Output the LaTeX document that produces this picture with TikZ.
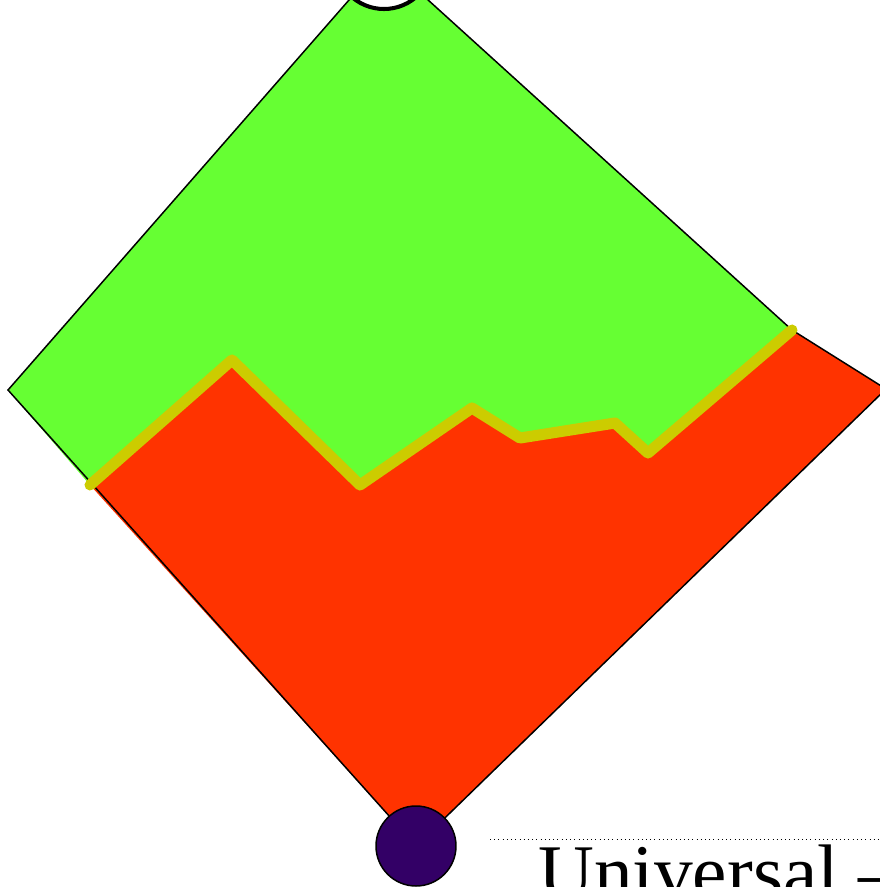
\documentclass[tikz,border=0pt]{standalone}
\usepackage{fontspec}
\setmainfont{Liberation Serif}
\usetikzlibrary{positioning}

\definecolor{pastgreen}{HTML}{66FF33}
\definecolor{futurered}{HTML}{FF3300}
\definecolor{horizon}{HTML}{CCCC00}
\definecolor{origin}{HTML}{330066}

\begin{document}
\begin{tikzpicture}[
    x=0.02cm, y=-0.02cm,
    edge/.style={draw=black, line width=0.85pt, line join=miter},
    front/.style={draw=horizon, line width=6.3pt, line join=round, line cap=round},
    apex/.style={circle, draw=black, fill=white, line width=2.3pt, minimum size=98*0.02cm, inner sep=0pt},
    source/.style={circle, draw=black, fill=origin, line width=0.85pt, minimum size=80*0.02cm, inner sep=0pt},
    caption/.style={anchor=base west, inner sep=0pt, font=\fontsize{44}{50}\selectfont}
  ]

  \useasboundingbox (0,0) rectangle (880,887);
  \clip (0,0) rectangle (880,887);

  % corners of the diamond
  \coordinate (top)    at (384,-40);
  \coordinate (left)   at (8,390);
  \coordinate (right)  at (886,389);
  \coordinate (bottom) at (416,846);

  % points of the front
  \coordinate (f0) at (90,485);
  \coordinate (f1) at (232,360);
  \coordinate (f2) at (360,485);
  \coordinate (f3) at (472,408);
  \coordinate (f4) at (520,438);
  \coordinate (f5) at (615,423);
  \coordinate (f6) at (648,453);
  \coordinate (f7) at (792,330);

  % regions
  \fill[pastgreen] (left) -- (top) -- (f7) -- (f6) -- (f5) -- (f4) -- (f3) -- (f2) -- (f1) -- (f0) -- cycle;
  \fill[futurered] (f0) -- (f1) -- (f2) -- (f3) -- (f4) -- (f5) -- (f6) -- (f7) -- (right) -- (bottom) -- cycle;

  % outline
  \draw[edge] (left) -- (top) -- (f7) -- (right) -- (bottom) -- cycle;

  % front
  \draw[front] (f0) -- (f1) -- (f2) -- (f3) -- (f4) -- (f5) -- (f6) -- (f7);

  % end points
  \node[apex]   (tip)  at (top) {};
  \node[source] (seed) at (bottom) {};

  % caption
  \coordinate (rule) at (880,839);
  \node[caption] (label) at (538,898) {Universal --};
  \draw[dotted, line width=0.4pt] (490,839) -- (rule);

\end{tikzpicture}
\end{document}
